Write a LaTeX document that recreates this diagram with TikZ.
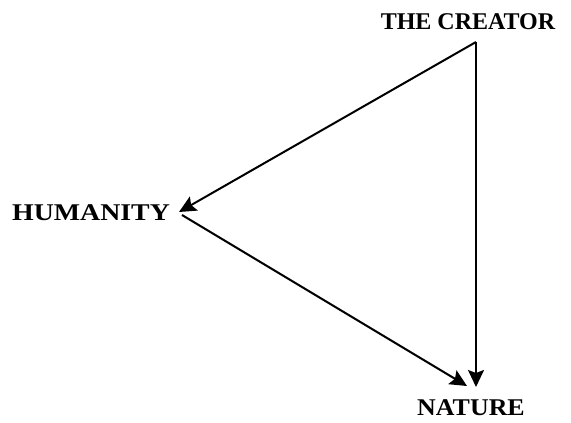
\documentclass[tikz,border=0pt]{standalone}
\usepackage{fontspec}
\setmainfont{Liberation Serif}
\usetikzlibrary{arrows.meta}
\begin{document}
\begin{tikzpicture}[x=1pt,y=-1pt,
  lbl/.style={font=\bfseries\fontsize{24}{27}\selectfont, inner sep=0pt},
  conn/.style={line width=2pt, -{Stealth[length=17pt,width=16pt,inset=3pt]}}]
\useasboundingbox (0,0) rectangle (571,423);
\node[lbl] (creator) at (468,22) {THE CREATOR};
\node[lbl, xscale=1.16] (humanity) at (91,213) {HUMANITY};
\node[lbl, xscale=1.08] (nature) at (471,408) {NATURE};
\coordinate (apex) at (476,42);
\coordinate (hum) at (179,212);
\coordinate (humstart) at (182,215);
\coordinate (natv) at (476,387);
\coordinate (natd) at (467,386);
\draw[conn] (apex) -- (hum);
\draw[conn] (apex) -- (natv);
\draw[conn] (humstart) -- (natd);
\end{tikzpicture}
\end{document}
